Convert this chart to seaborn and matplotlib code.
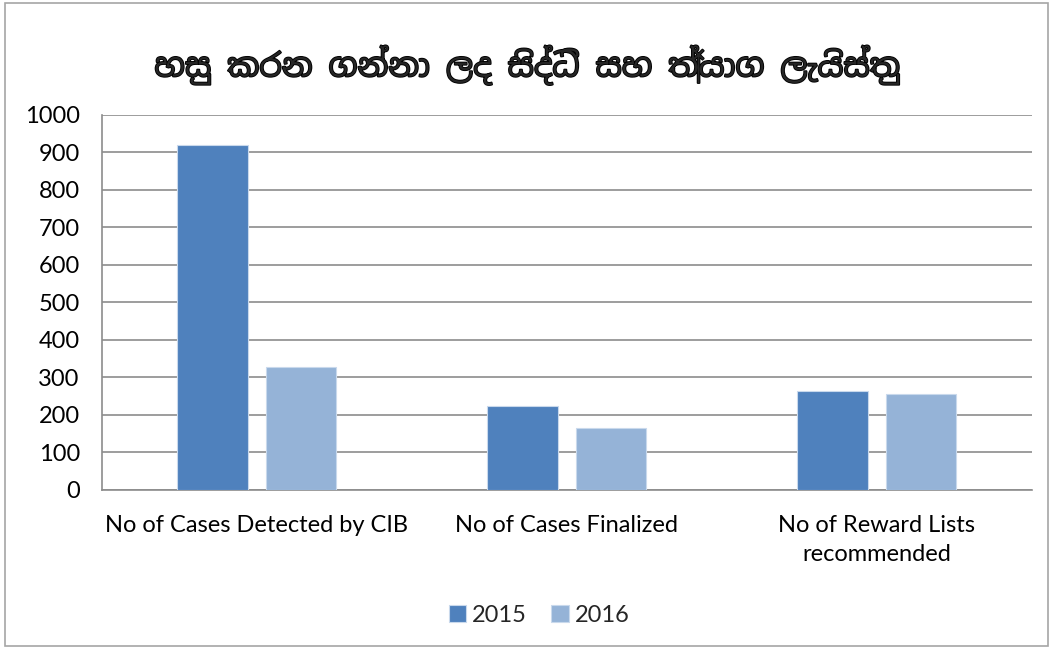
import matplotlib
matplotlib.use("Agg")
import matplotlib.pyplot as plt
import matplotlib.patheffects as pe
import seaborn as sns
import pandas as pd
from matplotlib.patches import Rectangle

# --- data ---
categories = ["No of Cases Detected by CIB", "No of Cases Finalized",
              "No of Reward Lists\nrecommended"]
years = ["2015", "2016"]
values_2015 = [921, 225, 263]
values_2016 = [327, 165, 257]
title = "හසු කරන ගන්නා ලද සිද්ධි සහ ත්‍යාග ලැයිස්තු"

df = pd.DataFrame({
    "category": categories * 2,
    "year": [years[0]] * 3 + [years[1]] * 3,
    "value": values_2015 + values_2016,
})

sns.set_style("white")
plt.rcParams["font.family"] = ["Lato", "DejaVu Sans"]

fig = plt.figure(figsize=(10.55, 6.49), dpi=100)
ax = fig.add_axes([0.0967, 0.245, 0.8813, 0.578])

palette = {"2015": "#4F81BD", "2016": "#95B3D7"}
sns.barplot(data=df, x="category", y="value", hue="year", palette=palette,
            width=0.57, gap=0.2, saturation=1, ax=ax,
            edgecolor="#C9D9EC", linewidth=0.8, zorder=3)

ax.set_ylim(0, 1000)
ax.set_yticks(range(0, 1001, 100))
ax.yaxis.grid(True, color="#8C8C8C", linewidth=1.2, zorder=0)
ax.set_axisbelow(True)
ax.set_xlabel("")
ax.set_ylabel("")
ax.tick_params(axis="both", labelsize=17, length=0, colors="black")
ax.tick_params(axis="y", pad=16)
ax.tick_params(axis="x", pad=18)
for lbl in ax.get_xticklabels():
    lbl.set_linespacing(1.5)
for s in ["top", "right"]:
    ax.spines[s].set_visible(False)
for s in ["left", "bottom"]:
    ax.spines[s].set_color("#8C8C8C")
    ax.spines[s].set_linewidth(1.2)

# Sinhala font has no bold face, so thicken the strokes a bit
t = fig.suptitle(title, fontsize=23, fontweight="bold", y=0.93,
                 family=["Noto Sans Sinhala", "Noto Sans", "DejaVu Sans"])
t.set_path_effects([pe.withStroke(linewidth=1.3, foreground="black")])

leg = ax.legend(loc="upper center", bbox_to_anchor=(0.47, -0.25), ncol=2,
                frameon=False, fontsize=17, handlelength=0.75, handleheight=0.75,
                handletextpad=0.25, columnspacing=1.0)

fig.patches.append(Rectangle((0.005, 0.005), 0.988, 0.99, transform=fig.transFigure,
                             fill=False, edgecolor="#A6A6A6", linewidth=1.2))

fig.savefig("out.png", dpi=100)
